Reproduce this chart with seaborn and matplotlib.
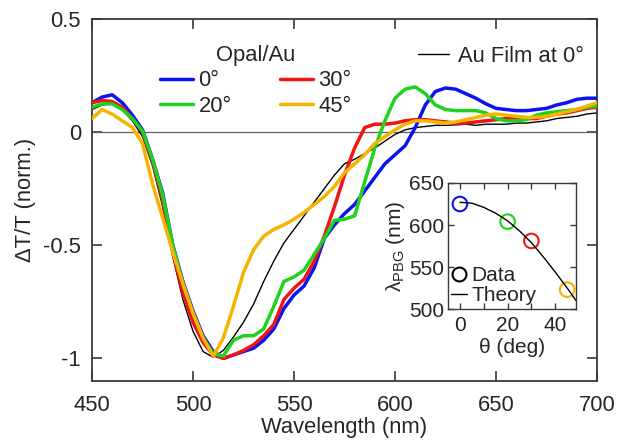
import matplotlib
matplotlib.use("Agg")
from matplotlib import pyplot as plt
from matplotlib.lines import Line2D
import seaborn as sns
import pandas as pd

# wavelength grid (nm) read every 5 nm
wavelength = [450, 455, 460, 465, 470, 475, 480, 485, 490, 495,
              500, 505, 510, 515, 520, 525, 530, 535, 540, 545,
              550, 555, 560, 565, 570, 575, 580, 585, 590, 595,
              600, 605, 610, 615, 620, 625, 630, 635, 640, 645,
              650, 655, 660, 665, 670, 675, 680, 685, 690, 695, 700]

opal_0 = [0.13, 0.155, 0.165, 0.13, 0.075, 0.01, -0.12, -0.27, -0.50, -0.66,
          -0.79, -0.90, -0.97, -1.00, -0.985, -0.97, -0.955, -0.92, -0.87, -0.78,
          -0.72, -0.68, -0.60, -0.47, -0.41, -0.36, -0.32, -0.26, -0.20, -0.14,
          -0.10, -0.06, 0.02, 0.12, 0.18, 0.195, 0.19, 0.17, 0.15, 0.125,
          0.105, 0.10, 0.095, 0.095, 0.10, 0.105, 0.12, 0.13, 0.145, 0.15, 0.15]

opal_20 = [0.11, 0.125, 0.125, 0.10, 0.06, 0.005, -0.12, -0.28, -0.50, -0.67,
           -0.80, -0.91, -0.98, -0.99, -0.92, -0.90, -0.90, -0.87, -0.77, -0.66,
           -0.64, -0.61, -0.54, -0.47, -0.39, -0.385, -0.37, -0.22, -0.07, 0.05,
           0.15, 0.19, 0.20, 0.17, 0.12, 0.10, 0.095, 0.095, 0.095, 0.085,
           0.06, 0.05, 0.05, 0.055, 0.075, 0.085, 0.09, 0.095, 0.10, 0.11, 0.115]

opal_30 = [0.13, 0.14, 0.135, 0.11, 0.06, 0.0, -0.13, -0.30, -0.53, -0.71,
           -0.84, -0.93, -0.985, -1.00, -0.985, -0.965, -0.94, -0.90, -0.85, -0.74,
           -0.69, -0.65, -0.57, -0.46, -0.33, -0.19, -0.07, 0.02, 0.035, 0.035,
           0.04, 0.05, 0.055, 0.055, 0.05, 0.045, 0.04, 0.04, 0.045, 0.05,
           0.055, 0.06, 0.06, 0.06, 0.06, 0.07, 0.08, 0.085, 0.095, 0.105, 0.11]

opal_45 = [0.06, 0.10, 0.08, 0.05, 0.02, -0.05, -0.23, -0.38, -0.53, -0.67,
           -0.80, -0.91, -0.99, -0.91, -0.77, -0.62, -0.52, -0.46, -0.43, -0.41,
           -0.385, -0.355, -0.32, -0.285, -0.24, -0.18, -0.14, -0.10, -0.05, -0.02,
           0.01, 0.035, 0.05, 0.05, 0.045, 0.04, 0.045, 0.055, 0.065, 0.075,
           0.08, 0.075, 0.07, 0.065, 0.065, 0.07, 0.08, 0.09, 0.10, 0.115, 0.13]

au_film = [0.10, 0.12, 0.125, 0.10, 0.05, -0.02, -0.15, -0.33, -0.55, -0.74,
           -0.88, -0.97, -0.995, -0.965, -0.906, -0.84, -0.76, -0.66, -0.57, -0.49,
           -0.43, -0.37, -0.31, -0.25, -0.19, -0.14, -0.12, -0.095, -0.07, -0.04,
           -0.01, 0.01, 0.02, 0.025, 0.03, 0.03, 0.032, 0.035, 0.03, 0.035,
           0.035, 0.035, 0.04, 0.04, 0.045, 0.05, 0.06, 0.065, 0.07, 0.08, 0.085]

angle_labels = ["0°", "20°", "30°", "45°"]
angle_colors = ["#0a14f0", "#1ed21e", "#f01414", "#f5b400"]

# inset: photonic band gap position vs angle
theta_data = [0, 20, 30, 45]
pbg_data = [625, 604, 581, 523]
theta_theory = [0, 5, 10, 15, 20, 25, 30, 35, 40, 45, 50]
pbg_theory = [627, 626, 621, 614, 605, 593, 579, 562, 544, 525, 505]

sns.set_theme(style="ticks")
plt.rcParams["font.family"] = ["Liberation Sans", "DejaVu Sans"]
plt.rcParams["axes.unicode_minus"] = False
plt.rcParams["mathtext.fontset"] = "custom"
plt.rcParams["mathtext.rm"] = "Liberation Sans"
plt.rcParams["mathtext.it"] = "Liberation Sans"

fs = 15.8
fs_in = 15
frame = "#3a3a3a"

fig = plt.figure(figsize=(6.17, 4.4), dpi=100)
ax = fig.add_axes([0.1491, 0.1341, 0.8185, 0.8227])

ax.axhline(0, color="#606060", lw=0.9, zorder=1)

sns.lineplot(x=wavelength, y=au_film, color="black", lw=1.0, ax=ax, zorder=2)
series = [opal_0, opal_30, opal_20, opal_45]
colors = [angle_colors[0], angle_colors[2], angle_colors[1], angle_colors[3]]
for vals, c in zip(series, colors):
    sns.lineplot(x=wavelength, y=vals, color=c, lw=2.5, ax=ax, zorder=3)

ax.set_xlim(450, 700)
ax.set_ylim(-1.1, 0.5)
ax.set_xticks([450, 500, 550, 600, 650, 700])
ax.set_yticks([-1, -0.5, 0, 0.5])
ax.set_yticklabels(["-1", "-0.5", "0", "0.5"])
ax.tick_params(direction="in", length=7, width=1.2, color=frame,
               top=True, right=True, labelsize=fs)
ax.tick_params(axis="x", pad=10)
ax.tick_params(axis="y", pad=8)
for s in ax.spines.values():
    s.set_color(frame)
    s.set_linewidth(1.3)
ax.set_xlabel("Wavelength (nm)", fontsize=fs, labelpad=1)
ax.set_ylabel("ΔT/T (norm.)", fontsize=fs, labelpad=5)

# Opal/Au legend
handles = [Line2D([], [], color=c, lw=2.5) for c in angle_colors]
leg = ax.legend(handles, angle_labels, title="Opal/Au", ncol=2, frameon=False,
                fontsize=fs, title_fontsize=fs, loc="upper left",
                bbox_to_anchor=(0.135, 0.928), borderaxespad=0, borderpad=0,
                handlelength=1.5, handletextpad=0.25, columnspacing=2.2,
                labelspacing=0.2)
ax.add_artist(leg)
ax.legend([Line2D([], [], color="black", lw=1.0)], ["Au Film at 0°"],
          frameon=False, fontsize=fs, loc="upper right",
          bbox_to_anchor=(0.975, 0.926), borderaxespad=0, borderpad=0,
          handlelength=1.4, handletextpad=0.45)

# inset
ins = fig.add_axes([0.7261, 0.2977, 0.2074, 0.2864])
sns.lineplot(x=theta_theory, y=pbg_theory, color="black", lw=1.0, ax=ins)
sns.scatterplot(x=theta_data, y=pbg_data, hue=angle_labels, palette=angle_colors,
                marker="o", s=110, linewidth=1.5, legend=False, ax=ins)
for coll in ins.collections:
    coll.set_facecolor("none")
    coll.set_edgecolor(angle_colors)
ins.set_xlim(-5, 48.7)
ins.set_ylim(500, 650)
ins.set_xticks([0, 10, 20, 30, 40])
ins.set_xticklabels(["0", "", "20", "", "40"])
ins.set_yticks([500, 550, 600, 650])
ins.tick_params(direction="in", length=4, width=1.0, color=frame,
                top=True, right=True, labelsize=fs_in, pad=3)
ins.tick_params(axis="x", pad=5)
for s in ins.spines.values():
    s.set_color(frame)
    s.set_linewidth(1.0)
ins.set_xlabel("θ (deg)", fontsize=fs_in, labelpad=2)
ins.set_ylabel("λ$_{\\mathrm{PBG}}$ (nm)", fontsize=fs_in, labelpad=1)
ins.legend([Line2D([], [], ls="none", marker="o", mfc="none", mec="black", ms=10, mew=1.5),
            Line2D([], [], color="black", lw=1.0)], ["Data", "Theory"],
           frameon=False, fontsize=fs_in, loc="lower left",
           bbox_to_anchor=(0.02, 0.03), borderaxespad=0, borderpad=0,
           handlelength=0.8, handletextpad=0.2, labelspacing=0.05)

fig.savefig("out.png", dpi=100)
